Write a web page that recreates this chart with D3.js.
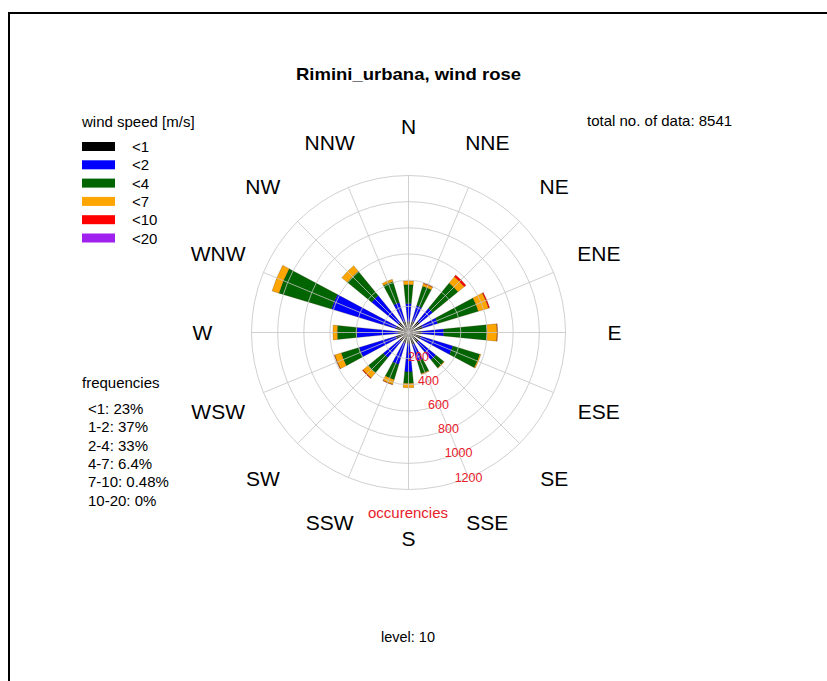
<!DOCTYPE html>
<html>
<head>
<meta charset="utf-8">
<script src="https://cdn.jsdelivr.net/npm/d3@7"></script>
<style>
  body { margin: 0; background: #fff; }
  svg { display: block; font-family: "Liberation Sans", Arial, sans-serif; }
</style>
</head>
<body>
<svg width="827" height="681"></svg>
<script>
const svg = d3.select("svg");

// directions, clockwise from north
const directions = ["N", "NNE", "NE", "ENE", "E", "ESE", "SE", "SSE",
                    "S", "SSW", "SW", "WSW", "W", "WNW", "NW", "NNW"];

// occurrences per direction for each wind speed class
const speedLt1  = [82, 90, 110, 112, 100, 100, 100, 95, 84, 85, 90, 100, 80, 100, 100, 90];
const speed1to2 = [140, 125, 130, 122, 170, 255, 170, 135, 217, 170, 160, 295, 315, 515, 265, 150];
const speed2to4 = [145, 155, 250, 324, 330, 215, 80, 100, 89, 122, 150, 143, 150, 420, 240, 168];
const speed4to7 = [28, 22, 62, 82, 78, 8, 4, 5, 33, 38, 50, 52, 33, 55, 55, 17];
const speed7to10 = [0, 3, 16, 8, 2, 0, 0, 0, 0, 2, 6, 2, 0, 0, 0, 0];
const speed10to20 = [0, 0, 0, 0, 0, 0, 0, 0, 0, 0, 0, 0, 0, 0, 0, 0];

const speedLabels = ["<1", "<2", "<4", "<7", "<10", "<20"];
const speedColors = ["#000000", "#0000ff", "#006400", "#ffa500", "#ff0000", "#a020f0"];
const freqLabels = ["<1: 23%", "1-2: 37%", "2-4: 33%", "4-7: 6.4%", "7-10: 0.48%", "10-20: 0%"];
const ringTicks = [200, 400, 600, 800, 1000, 1200];
const totalData = 8541;

const keys = ["s0", "s1", "s2", "s3", "s4", "s5"];
const series = [speedLt1, speed1to2, speed2to4, speed4to7, speed7to10, speed10to20];
const rows = directions.map((d, i) => {
    const row = { dir: d, angle: i * 22.5 };
    keys.forEach((k, j) => row[k] = series[j][i]);
    return row;
});

const cx = 408.5, cy = 332.5;
const r = d3.scaleLinear().domain([0, 1200]).range([0, 157]);
const color = d3.scaleOrdinal().domain(keys).range(speedColors);
const rad = deg => deg * Math.PI / 180;
const halfWidth = rad(5.6);

// frame
svg.append("path")
    .attr("d", "M9,681V13H827")
    .attr("fill", "none")
    .attr("stroke", "#000")
    .attr("stroke-width", 2);

// title
svg.append("text")
    .attr("x", 296).attr("y", 80)
    .attr("textLength", 225)
    .attr("lengthAdjust", "spacingAndGlyphs")
    .style("font-size", "17px")
    .style("font-weight", "bold")
    .text("Rimini_urbana, wind rose");

svg.append("text")
    .attr("x", 587).attr("y", 126)
    .style("font-size", "15px")
    .text("total no. of data: " + totalData);

const g = svg.append("g").attr("transform", `translate(${cx},${cy})`);

// stacked sectors
const stacked = d3.stack().keys(keys)(rows);
const arc = d3.arc()
    .innerRadius(d => r(d[0]))
    .outerRadius(d => r(d[1]))
    .startAngle(d => rad(d.data.angle) - halfWidth)
    .endAngle(d => rad(d.data.angle) + halfWidth);

g.selectAll(".layer")
    .data(stacked)
    .enter()
    .append("g")
    .attr("class", "layer")
    .attr("fill", d => color(d.key))
    .selectAll("path")
    .data(d => d.filter(s => s[1] > s[0]))
    .enter()
    .append("path")
    .attr("d", arc)
    .attr("stroke", "rgba(60,40,0,0.45)")
    .attr("stroke-width", 0.5);

// grid on top
g.selectAll(".ring")
    .data(ringTicks)
    .enter()
    .append("circle")
    .attr("class", "ring")
    .attr("r", d => r(d))
    .attr("fill", "none")
    .attr("stroke", "#c4c4c4")
    .attr("stroke-opacity", 0.8)
    .attr("stroke-width", 1);

g.selectAll(".spoke")
    .data(rows)
    .enter()
    .append("line")
    .attr("class", "spoke")
    .attr("x1", 0).attr("y1", 0)
    .attr("x2", d => r(1200) * Math.sin(rad(d.angle)))
    .attr("y2", d => -r(1200) * Math.cos(rad(d.angle)))
    .attr("stroke", "#c4c4c4")
    .attr("stroke-opacity", 0.8)
    .attr("stroke-width", 1);

// ring labels along SSE spoke
const labelAngle = rad(157.5);
g.selectAll(".ringLabel")
    .data(ringTicks)
    .enter()
    .append("text")
    .attr("class", "ringLabel")
    .attr("x", d => r(d) * Math.sin(labelAngle))
    .attr("y", d => -r(d) * Math.cos(labelAngle))
    .attr("text-anchor", "middle")
    .attr("dominant-baseline", "central")
    .attr("fill", "#e8202a")
    .style("font-size", "12.5px")
    .text(d => d);

// direction labels
g.selectAll(".dirLabel")
    .data(rows)
    .enter()
    .append("text")
    .attr("class", "dirLabel")
    .attr("x", d => 206 * Math.sin(rad(d.angle)))
    .attr("y", d => -206 * Math.cos(rad(d.angle)))
    .attr("text-anchor", "middle")
    .attr("dominant-baseline", "central")
    .style("font-size", "21px")
    .text(d => d.dir);

svg.append("text")
    .attr("x", 408).attr("y", 518)
    .attr("text-anchor", "middle")
    .attr("fill", "#e8202a")
    .style("font-size", "15px")
    .text("occurencies");

// legend
svg.append("text")
    .attr("x", 82).attr("y", 127)
    .style("font-size", "15px")
    .text("wind speed [m/s]");

const legend = svg.selectAll(".legendItem")
    .data(speedLabels)
    .enter()
    .append("g")
    .attr("class", "legendItem")
    .attr("transform", (d, i) => `translate(82,${142 + i * 18.3})`);

legend.append("rect")
    .attr("width", 33).attr("height", 9)
    .attr("fill", (d, i) => speedColors[i]);

legend.append("text")
    .attr("x", 50).attr("y", 10)
    .style("font-size", "15px")
    .text(d => d);

// frequencies
svg.append("text")
    .attr("x", 82).attr("y", 388)
    .style("font-size", "15px")
    .text("frequencies");

svg.selectAll(".freq")
    .data(freqLabels)
    .enter()
    .append("text")
    .attr("class", "freq")
    .attr("x", 88)
    .attr("y", (d, i) => 414 + i * 18.3)
    .style("font-size", "15px")
    .text(d => d);

svg.append("text")
    .attr("x", 408).attr("y", 642)
    .attr("text-anchor", "middle")
    .style("font-size", "14.5px")
    .text("level: 10");
</script>
</body>
</html>
